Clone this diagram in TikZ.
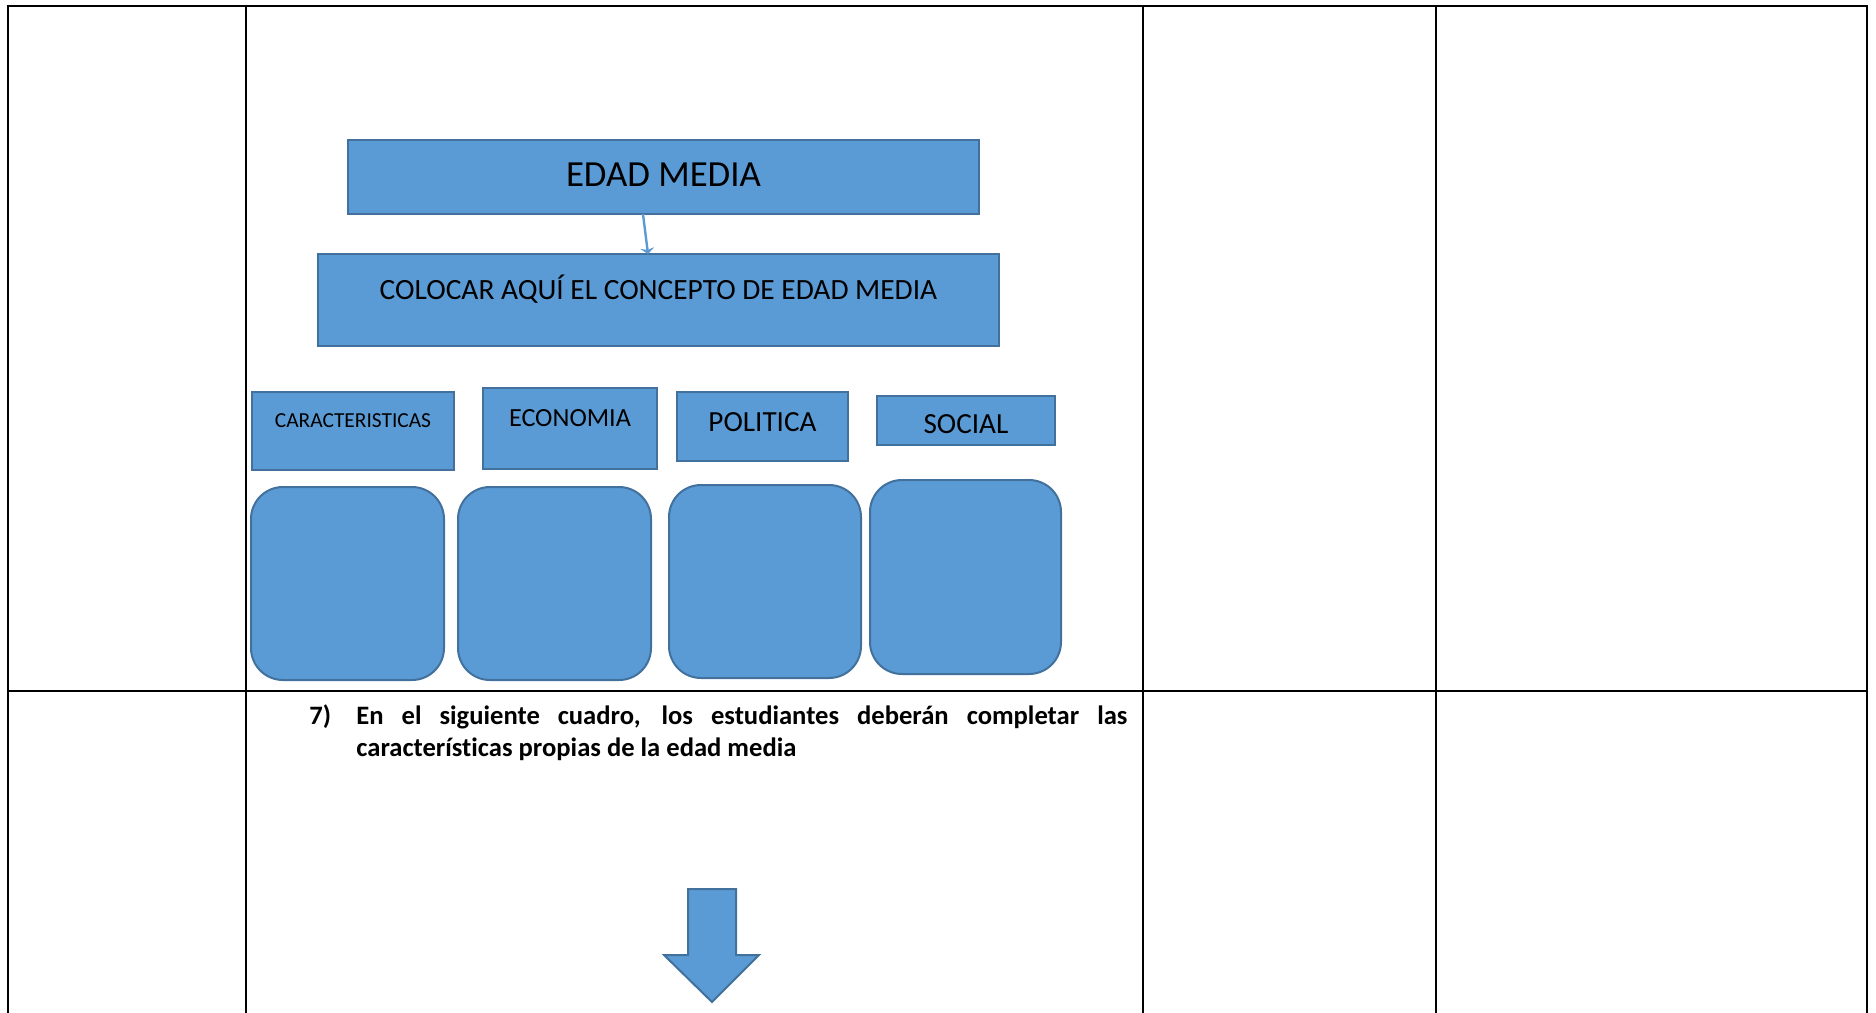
\documentclass[tikz,border=0pt]{standalone}
\usepackage{fontspec}
\setmainfont{Carlito}[Ligatures=NoCommon]
\usetikzlibrary{arrows.meta}
\definecolor{boxfill}{HTML}{5B9BD5}
\definecolor{boxline}{HTML}{41719C}
\begin{document}
\begin{tikzpicture}[x=0.5pt,y=-0.5pt,
  box/.style={draw=boxline, fill=boxfill, line width=1pt, inner sep=0pt, outer sep=0pt},
  rbox/.style={box, rounded corners=16pt, minimum width=96.5pt, minimum height=96.5pt},
  lbl/.style={inner sep=0pt, anchor=base, text=black},
  txt/.style={inner sep=0pt, anchor=base west, text=black, font=\fontsize{13.3}{16}\selectfont\bfseries},
  grid/.style={line width=1.3pt, black}]
\useasboundingbox (0,0) rectangle (1876,1013);
\fill[white] (0,0) rectangle (1876,1013);
% table
\draw[grid] (8,1013) -- (8,6) -- (1867,6) -- (1867,1013);
\draw[grid] (246,6) -- (246,1013);
\draw[grid] (1143,6) -- (1143,1013);
\draw[grid] (1436,6) -- (1436,1013);
\draw[grid] (8,691) -- (1867,691);
% title boxes
\node[box, minimum width=315.5pt, minimum height=37pt] (edad) at (663.5,177) {};
\node[lbl, font=\fontsize{18.4}{22}\selectfont] (edadt) at (663.5,186.8) {EDAD MEDIA};
\node[box, minimum width=340.5pt, minimum height=46pt] (colocar) at (658.5,300) {};
\node[lbl, font=\fontsize{14.7}{18}\selectfont] (colocart) at (658.5,299) {COLOCAR AQUÍ EL CONCEPTO DE EDAD MEDIA};
\draw[boxfill, line width=1.2pt, -{Stealth[length=3pt,width=7pt]}] ([xshift=-10.25pt]edad.south) -- ([xshift=-5.25pt]colocar.north);
% category boxes
\node[box, minimum width=101pt, minimum height=39.25pt] (car) at (353,431) {};
\node[lbl, font=\fontsize{10.7}{13}\selectfont] (cart) at (353,427.5) {CARACTERISTICAS};
\node[box, minimum width=87pt, minimum height=40.75pt] (eco) at (570,428.25) {};
\node[lbl, font=\fontsize{13.1}{16}\selectfont] (ecot) at (570,426) {ECONOMIA};
\node[box, minimum width=85.5pt, minimum height=34.75pt] (pol) at (762.5,426.25) {};
\node[lbl, font=\fontsize{14.6}{18}\selectfont] (polt) at (762.5,431) {POLITICA};
\node[box, minimum width=89pt, minimum height=24.5pt] (soc) at (966,420.5) {};
\node[lbl, font=\fontsize{14.6}{18}\selectfont] (soct) at (966,433.5) {SOCIAL};
% rounded boxes
\node[rbox] (r1) at (347.5,583.5) {};
\node[rbox] (r2) at (554.5,583.5) {};
\node[rbox, minimum width=96pt] (r3) at (765,581.5) {};
\node[rbox, minimum width=95.5pt, minimum height=97pt] (r4) at (965.5,577) {};
% question text
\node[txt] (qnum) at (309,724) {7)};
\node[txt] (q1) at (356,724) {\makebox[385.5pt][s]{En el siguiente cuadro, los estudiantes deberán completar las}};
\node[txt] (q2) at (356,756) {características propias de la edad media};
% block arrow
\draw[draw=boxline, fill=boxfill, line width=1pt, line join=miter]
  (688,889) -- (736,889) -- (736,955) -- (759,955) -- (712,1002) -- (664,955) -- (688,955) -- cycle;
\end{tikzpicture}
\end{document}
